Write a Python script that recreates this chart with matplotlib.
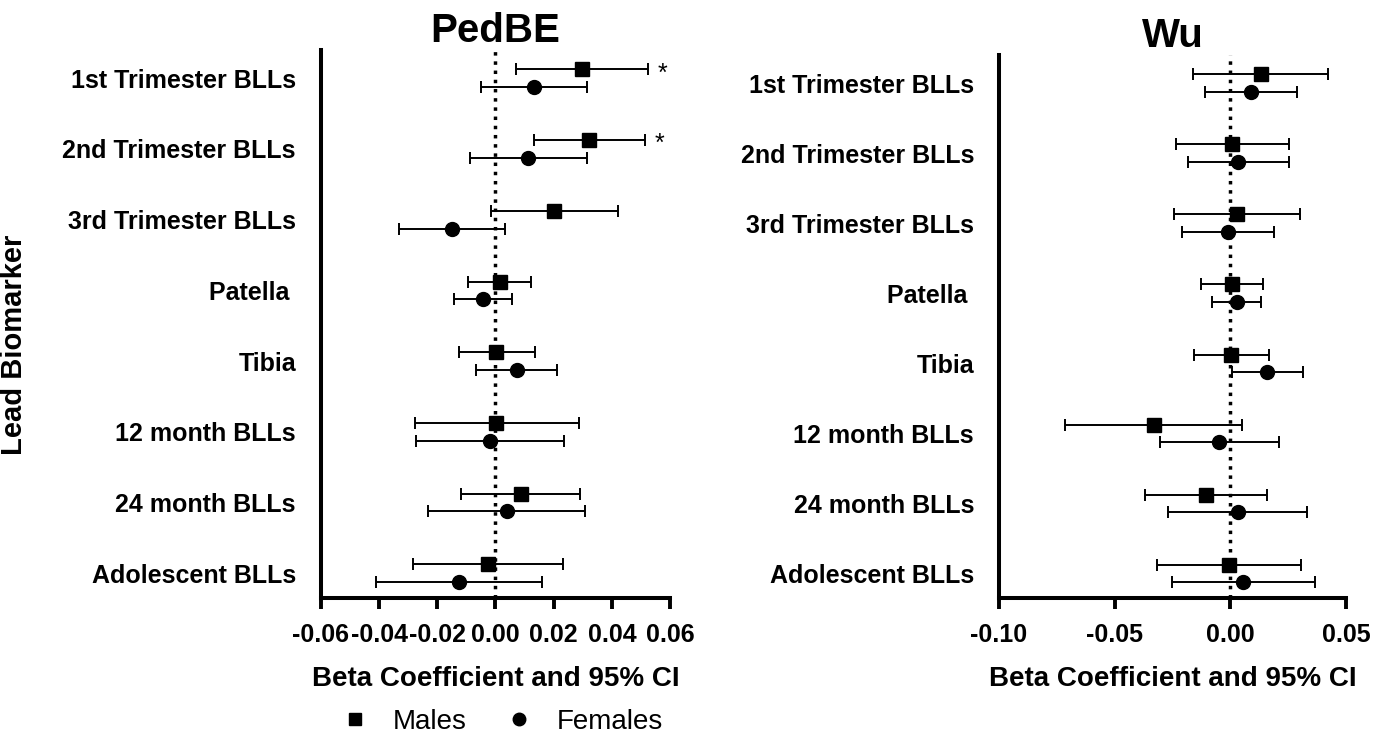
#!/usr/bin/env python3
"""Forest plot: sex-stratified beta coefficients (95% CI) of lead biomarkers
on PedBE and Wu epigenetic clocks.

Output: out.png
"""

import numpy as np
import matplotlib.pyplot as plt
from matplotlib.lines import Line2D


BIOMARKERS = [
    "1st Trimester BLLs", "2nd Trimester BLLs", "3rd Trimester BLLs",
    "Patella ", "Tibia", "12 month BLLs", "24 month BLLs", "Adolescent BLLs",
]

# PedBE
PEDBE_M = [0.0298, 0.0322, 0.0202, 0.0015, 0.0003, 0.0003, 0.0086, -0.0025]
PEDBE_M_LO = [0.0070, 0.0133, -0.0015, -0.0094, -0.0126, -0.0278, -0.0117, -0.0282]
PEDBE_M_HI = [0.0525, 0.0514, 0.0420, 0.0121, 0.0135, 0.0288, 0.0290, 0.0232]
PEDBE_F = [0.0131, 0.0111, -0.0149, -0.0044, 0.0073, -0.0020, 0.0038, -0.0125]
PEDBE_F_LO = [-0.0051, -0.0089, -0.0333, -0.0143, -0.0067, -0.0273, -0.0232, -0.0412]
PEDBE_F_HI = [0.0314, 0.0314, 0.0033, 0.0058, 0.0213, 0.0234, 0.0307, 0.0160]
PEDBE_SIG_M = [True, True, False, False, False, False, False, False]

# Wu
WU_M = [0.0133, 0.0007, 0.0027, 0.0006, 0.0003, -0.0332, -0.0107, -0.0006]
WU_M_LO = [-0.0160, -0.0237, -0.0244, -0.0127, -0.0157, -0.0716, -0.0369, -0.0319]
WU_M_HI = [0.0423, 0.0252, 0.0302, 0.0139, 0.0166, 0.0050, 0.0159, 0.0304]
WU_F = [0.0091, 0.0035, -0.0010, 0.0027, 0.0159, -0.0050, 0.0032, 0.0056]
WU_F_LO = [-0.0108, -0.0183, -0.0208, -0.0081, 0.0006, -0.0306, -0.0271, -0.0252]
WU_F_HI = [0.0290, 0.0252, 0.0189, 0.0134, 0.0312, 0.0208, 0.0332, 0.0364]

PEDBE_TICKS = [-0.06, -0.04, -0.02, 0.00, 0.02, 0.04, 0.06]
WU_TICKS = [-0.10, -0.05, 0.00, 0.05]

OFFSET = 0.125

plt.rcParams["font.family"] = ["Liberation Sans", "DejaVu Sans"]


def forest(ax, title, m, m_lo, m_hi, f, f_lo, f_hi, ticks, sig=None, title_pad=6):
    y = np.arange(len(BIOMARKERS))
    m = np.array(m)
    f = np.array(f)
    ax.axvline(0, color="black", ls=":", lw=2.5, zorder=1)
    ax.errorbar(m, y - OFFSET, xerr=[m - np.array(m_lo), np.array(m_hi) - m],
                fmt="s", color="black", ms=9.5, elinewidth=1.4, capsize=4.6,
                capthick=1.4, zorder=3)
    ax.errorbar(f, y + OFFSET, xerr=[f - np.array(f_lo), np.array(f_hi) - f],
                fmt="o", color="black", ms=10, elinewidth=1.4, capsize=4.6,
                capthick=1.4, zorder=3)
    if sig is not None:
        for i, s in enumerate(sig):
            if s:
                ax.annotate("*", (m_hi[i], y[i] - OFFSET), xytext=(7, -3),
                            textcoords="offset points", fontsize=18,
                            va="center", ha="left")

    ax.set_xlim(ticks[0], ticks[-1])
    ax.set_ylim(7.35, -0.4)
    ax.set_xticks(ticks)
    ax.set_xticklabels([f"{t:.2f}" for t in ticks], fontsize=18, fontweight="bold")
    ax.set_yticks(y)
    ax.set_yticklabels(BIOMARKERS, fontsize=18, fontweight="bold")
    ax.tick_params(axis="y", length=0, pad=18)
    ax.tick_params(axis="x", length=8, width=2.8, direction="out", pad=10)
    for side in ("top", "right"):
        ax.spines[side].set_visible(False)
    for side in ("left", "bottom"):
        ax.spines[side].set_linewidth(2.9)
    ax.set_xlabel("Beta Coefficient and 95% CI", fontsize=20,
                  fontweight="bold", labelpad=13.5)
    ax.set_title(title, fontsize=29, fontweight="bold", pad=title_pad)


def main():
    fig = plt.figure(figsize=(13.86, 7.35), dpi=100)
    ax1 = fig.add_axes([0.2316, 0.1864, 0.2518, 0.7456])
    ax2 = fig.add_axes([0.7208, 0.1864, 0.2504, 0.7388])

    forest(ax1, "PedBE", PEDBE_M, PEDBE_M_LO, PEDBE_M_HI,
           PEDBE_F, PEDBE_F_LO, PEDBE_F_HI, PEDBE_TICKS, PEDBE_SIG_M)
    forest(ax2, "Wu", WU_M, WU_M_LO, WU_M_HI,
           WU_F, WU_F_LO, WU_F_HI, WU_TICKS, title_pad=1)

    ax1.set_ylabel("Lead Biomarker", fontsize=21, fontweight="bold")
    ax1.yaxis.set_label_coords(-0.84, 0.462)

    handles = [
        Line2D([], [], marker="s", color="black", ls="none", ms=9),
        Line2D([], [], marker="o", color="black", ls="none", ms=9),
    ]
    fig.legend(handles, ["Males", "Females"], loc="center", ncol=2,
               bbox_to_anchor=(502 / 1386, 1 - 722 / 735), frameon=False,
               fontsize=20, handletextpad=0.85, columnspacing=1.4,
               handlelength=1.0)

    fig.savefig("out.png", dpi=100)
    plt.close(fig)


if __name__ == "__main__":
    main()
